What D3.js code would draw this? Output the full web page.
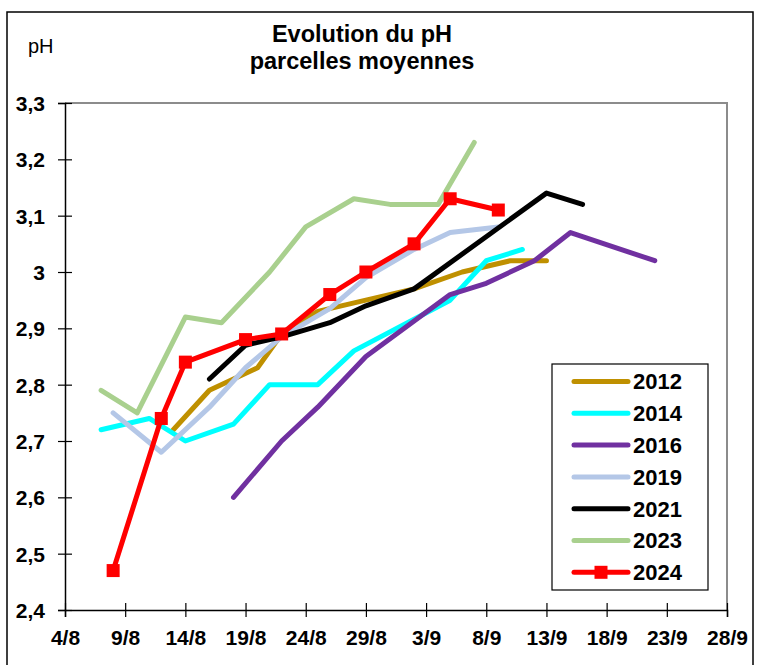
<!DOCTYPE html>
<html lang="fr">
<head>
  <meta charset="UTF-8">
  <title>Evolution du pH</title>
  <script src="https://d3js.org/d3.v7.min.js"></script>
  <style>
    body { margin: 0; background: #fff; }
    text { font-family: "Liberation Sans", Arial, sans-serif; }
    .tick-label { font-size: 21px; font-weight: bold; }
    .legend text { font-size: 22px; font-weight: bold; }
  </style>
</head>
<body>
<svg width="759" height="665"></svg>
<script>
  // Données (date "j/m", pH)
  const xTicks = ["4/8", "9/8", "14/8", "19/8", "24/8", "29/8", "3/9", "8/9", "13/9", "18/9", "23/9", "28/9"];
  const yTicks = [2.4, 2.5, 2.6, 2.7, 2.8, 2.9, 3.0, 3.1, 3.2, 3.3];

  const dates2012 = ["13/8", "16/8", "20/8", "22/8", "25/8", "29/8", "2/9", "6/9", "10/9", "13/9"];
  const ph2012    = [2.72, 2.79, 2.83, 2.89, 2.93, 2.95, 2.97, 3.00, 3.02, 3.02];

  const dates2014 = ["7/8", "11/8", "14/8", "18/8", "21/8", "25/8", "28/8", "5/9", "8/9", "11/9"];
  const ph2014    = [2.72, 2.74, 2.70, 2.73, 2.80, 2.80, 2.86, 2.95, 3.02, 3.04];

  const dates2016 = ["18/8", "22/8", "25/8", "29/8", "5/9", "8/9", "12/9", "15/9", "22/9"];
  const ph2016    = [2.60, 2.70, 2.76, 2.85, 2.96, 2.98, 3.02, 3.07, 3.02];

  const dates2019 = ["8/8", "12/8", "16/8", "19/8", "22/8", "26/8", "29/8", "2/9", "5/9", "9/9"];
  const ph2019    = [2.75, 2.68, 2.76, 2.83, 2.885, 2.935, 2.99, 3.04, 3.07, 3.08];

  const dates2021 = ["16/8", "19/8", "22/8", "26/8", "29/8", "2/9", "13/9", "16/9"];
  const ph2021    = [2.81, 2.87, 2.885, 2.91, 2.94, 2.97, 3.14, 3.12];

  const dates2023 = ["7/8", "10/8", "14/8", "17/8", "21/8", "24/8", "28/8", "31/8", "4/9", "7/9"];
  const ph2023    = [2.79, 2.75, 2.92, 2.91, 3.00, 3.08, 3.13, 3.12, 3.12, 3.23];

  const dates2024 = ["8/8", "12/8", "14/8", "19/8", "22/8", "26/8", "29/8", "2/9", "5/9", "9/9"];
  const ph2024    = [2.47, 2.74, 2.84, 2.88, 2.89, 2.96, 3.00, 3.05, 3.13, 3.11];

  const seriesNames  = ["2012", "2014", "2016", "2019", "2021", "2023", "2024"];
  const seriesDates  = [dates2012, dates2014, dates2016, dates2019, dates2021, dates2023, dates2024];
  const seriesValues = [ph2012, ph2014, ph2016, ph2019, ph2021, ph2023, ph2024];
  const seriesColors = ["#bf9000", "#00ffff", "#7030a0", "#b4c7e7", "#000000", "#a9d08e", "#ff0000"];

  // jour compté depuis le 4/8
  function dayOf(s) {
    const [d, m] = s.split("/").map(Number);
    return m === 8 ? d - 4 : d + 27;
  }

  const margin = {top: 103, left: 65, right: 32, bottom: 55};
  const width = 759 - margin.left - margin.right,
        height = 665 - margin.top - margin.bottom;

  const svgRoot = d3.select("svg");

  // cadre extérieur
  svgRoot.append("rect")
    .attr("x", 7).attr("y", 12)
    .attr("width", 746).attr("height", 700)
    .attr("fill", "none").attr("stroke", "#000").attr("stroke-width", 1.5);

  // titre
  svgRoot.append("text")
    .attr("x", 362).attr("y", 41.5)
    .attr("text-anchor", "middle")
    .style("font-size", "23.5px").style("font-weight", "bold")
    .text("Evolution du pH");
  svgRoot.append("text")
    .attr("x", 362).attr("y", 69)
    .attr("text-anchor", "middle")
    .style("font-size", "23.5px").style("font-weight", "bold")
    .text("parcelles moyennes");

  svgRoot.append("text")
    .attr("x", 28).attr("y", 53)
    .style("font-size", "20px")
    .text("pH");

  const svg = svgRoot.append("g")
    .attr("transform", `translate(${margin.left},${margin.top})`);

  const x = d3.scaleLinear().domain([0, 55]).range([0, width]);
  const y = d3.scaleLinear().domain([2.4, 3.3]).range([height, 0]);

  // bord gris du haut et de droite
  svg.append("path")
    .attr("d", `M0,0H${width}V${height}`)
    .attr("fill", "none").attr("stroke", "#8c8c8c").attr("stroke-width", 2);

  // axe Y
  const yAxis = svg.append("g")
    .call(d3.axisLeft(y).tickValues(yTicks).tickSize(7)
      .tickFormat(d => d3.format(".1f")(d).replace(".", ",").replace(",0", "")));
  yAxis.select(".domain").attr("stroke", "#000").attr("stroke-width", 1.5);
  yAxis.selectAll(".tick line").attr("x2", -7).attr("x1", 7).attr("stroke-width", 1.2);
  yAxis.selectAll(".tick text")
    .attr("class", "tick-label").attr("x", -20).attr("dy", "0.35em")
    .attr("fill", "#000").style("font-family", "Liberation Sans, Arial, sans-serif");

  // axe X
  const xAxis = svg.append("g")
    .attr("transform", `translate(0,${height})`)
    .call(d3.axisBottom(x).tickValues(xTicks.map(dayOf)).tickSize(7)
      .tickFormat((d, i) => xTicks[i]));
  xAxis.select(".domain").attr("stroke", "#000").attr("stroke-width", 1.5);
  xAxis.selectAll(".tick line").attr("y1", -7).attr("y2", 7).attr("stroke-width", 1.2);
  xAxis.selectAll(".tick text")
    .attr("class", "tick-label").attr("y", 20).attr("dy", "0.71em")
    .attr("fill", "#000").style("font-family", "Liberation Sans, Arial, sans-serif");

  const line = d3.line()
    .x(d => x(d.day))
    .y(d => y(d.ph));

  const series = seriesNames.map((name, i) => ({
    name: name,
    color: seriesColors[i],
    points: seriesDates[i].map((s, j) => ({day: dayOf(s), ph: seriesValues[i][j]}))
  }));

  svg.selectAll(".serie")
    .data(series)
    .enter().append("path")
    .attr("class", "serie")
    .attr("fill", "none")
    .attr("stroke", d => d.color)
    .attr("stroke-width", 5)
    .attr("stroke-linejoin", "round")
    .attr("stroke-linecap", "round")
    .attr("d", d => line(d.points));

  // marqueurs carrés pour 2024
  const s2024 = series[series.length - 1];
  svg.selectAll(".marker")
    .data(s2024.points)
    .enter().append("rect")
    .attr("class", "marker")
    .attr("x", d => x(d.day) - 6.5)
    .attr("y", d => y(d.ph) - 6.5)
    .attr("width", 13).attr("height", 13)
    .attr("fill", s2024.color);

  // légende
  const legendBox = svgRoot.append("g").attr("class", "legend");
  legendBox.append("rect")
    .attr("x", 552).attr("y", 364)
    .attr("width", 156).attr("height", 226)
    .attr("fill", "#fff").attr("stroke", "#000").attr("stroke-width", 1.2);

  const item = legendBox.selectAll(".item")
    .data(series)
    .enter().append("g")
    .attr("class", "item")
    .attr("transform", (d, i) => `translate(0,${381.5 + i * 31.8})`);

  item.append("line")
    .attr("x1", 574).attr("x2", 628)
    .attr("stroke", d => d.color)
    .attr("stroke-width", 5)
    .attr("stroke-linecap", "round");

  item.filter(d => d.name === "2024").append("rect")
    .attr("x", 594.5).attr("y", -6.5)
    .attr("width", 13).attr("height", 13)
    .attr("fill", d => d.color);

  item.append("text")
    .attr("x", 633).attr("dy", "0.36em")
    .text(d => d.name);
</script>
</body>
</html>
